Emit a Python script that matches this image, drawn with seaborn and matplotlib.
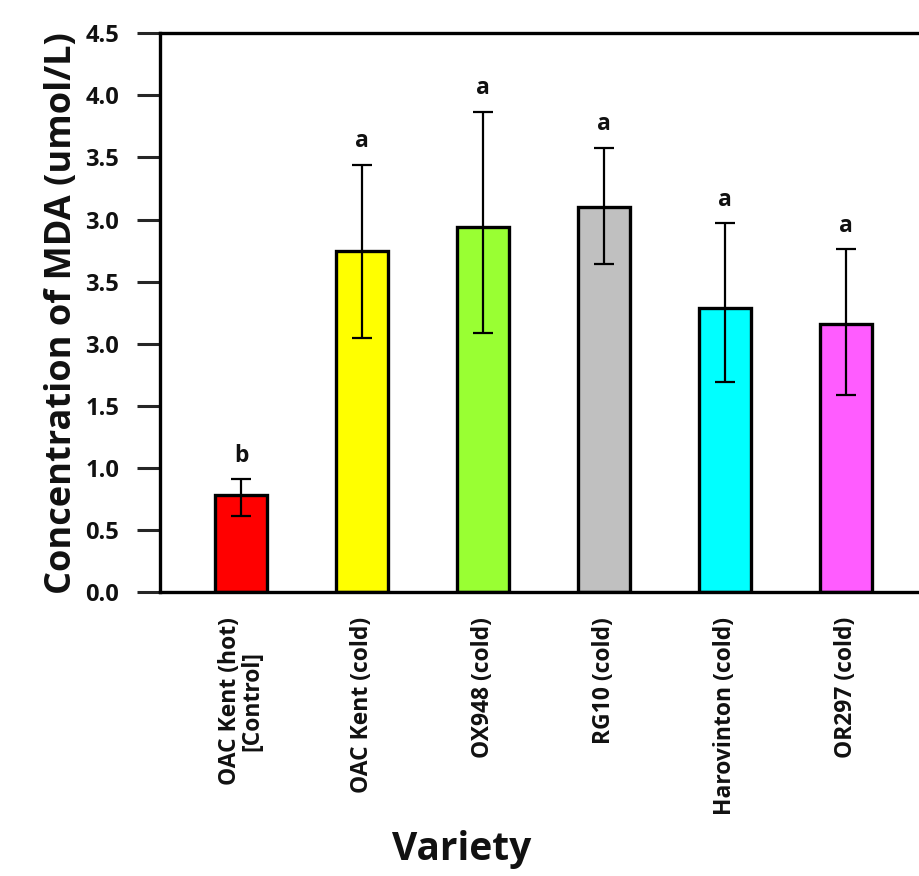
import matplotlib
matplotlib.use("Agg")
import matplotlib.pyplot as plt
import seaborn as sns
import pandas as pd

# values
varieties = ["OAC Kent (hot)\n[Control]", "OAC Kent (cold)", "OX948 (cold)",
             "RG10 (cold)", "Harovinton (cold)", "OR297 (cold)"]
mda_mean = [0.78, 2.75, 2.94, 3.10, 2.29, 2.16]
err_upper = [0.91, 3.44, 3.87, 3.58, 2.97, 2.76]
err_lower = [0.61, 2.05, 2.09, 2.64, 1.69, 1.59]
letters = ["b", "a", "a", "a", "a", "a"]
bar_colors = ["#FF0000", "#FFFF00", "#99FF33", "#C0C0C0", "#00FFFF", "#FF5CFF"]

ytick_vals = [0.0, 0.5, 1.0, 1.5, 2.0, 2.5, 3.0, 3.5, 4.0, 4.5]
ytick_labels = ["0.0", "0.5", "1.0", "1.5", "3.0", "3.5", "3.0", "3.5", "4.0", "4.5"]

df = pd.DataFrame({"variety": varieties, "mda": mda_mean})

sns.set_style("white")
plt.rcParams["font.family"] = ["Open Sans", "DejaVu Sans"]

fig = plt.figure(figsize=(9.2, 8.76), dpi=100)
ax = fig.add_axes([0.174, 0.324, 0.826, 0.638])

sns.barplot(data=df, x="variety", y="mda", hue="variety", palette=bar_colors,
            saturation=1, errorbar=None, width=0.43, edgecolor="black",
            linewidth=2.4, legend=False, ax=ax)

# asymmetric error bars
lo = [m - l for m, l in zip(mda_mean, err_lower)]
hi = [u - m for m, u in zip(mda_mean, err_upper)]
ax.errorbar(range(len(varieties)), mda_mean, yerr=[lo, hi], fmt="none",
            ecolor="black", elinewidth=1.6, capsize=7.5, capthick=1.6, zorder=5)

# significance letters
for i, (u, t) in enumerate(zip(err_upper, letters)):
    ax.text(i, u + 0.19, t, ha="center", va="center", fontsize=16.5,
            fontweight="bold", color="#111111")

ax.set_xlim(-0.67, 5.61)
ax.set_ylim(0, 4.5)
ax.set_yticks(ytick_vals)
ax.set_yticklabels(ytick_labels, fontsize=17, fontweight="bold", color="#111111")
ax.set_xticks(range(len(varieties)))
ax.set_xticklabels(varieties, rotation=90, fontsize=16.5, fontweight="bold",
                   linespacing=0.95, color="#111111")
ax.tick_params(axis="y", direction="out", length=16.5, width=2.2, pad=13, left=True)
ax.tick_params(axis="x", length=0, pad=18)

for side in ["left", "bottom", "top"]:
    ax.spines[side].set_linewidth(2.4)
    ax.spines[side].set_color("black")
ax.spines["right"].set_visible(False)

ax.set_ylabel("Concentration of MDA (umol/L)", fontsize=26, fontweight="bold",
              labelpad=4, color="#111111")
ax.set_xlabel("Variety", fontsize=28, fontweight="bold", color="#111111")
ax.xaxis.set_label_coords(0.397, -0.425)

plt.savefig("out.png", dpi=100)
